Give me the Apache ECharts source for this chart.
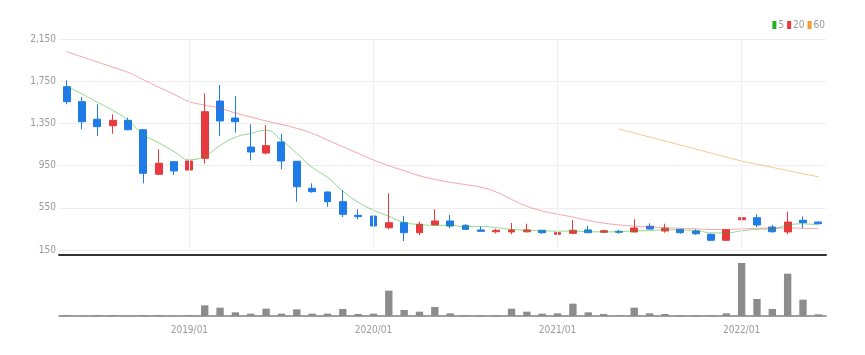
<!DOCTYPE html>
<html>
<head>
<meta charset="utf-8">
<script src="https://cdn.jsdelivr.net/npm/echarts@6/dist/echarts.min.js"></script>
<style>
  html, body { margin: 0; padding: 0; background: #fff; }
  #main { width: 865px; height: 355px; }
</style>
</head>
<body>
<div id="main"></div>
<script>
var dates = [
  "2018/05", "2018/06", "2018/07", "2018/08", "2018/09", "2018/10", "2018/11", "2018/12",
  "2019/01", "2019/02", "2019/03", "2019/04", "2019/05", "2019/06", "2019/07", "2019/08",
  "2019/09", "2019/10", "2019/11", "2019/12", "2020/01", "2020/02", "2020/03", "2020/04",
  "2020/05", "2020/06", "2020/07", "2020/08", "2020/09", "2020/10", "2020/11", "2020/12",
  "2021/01", "2021/02", "2021/03", "2021/04", "2021/05", "2021/06", "2021/07", "2021/08",
  "2021/09", "2021/10", "2021/11", "2021/12", "2022/01", "2022/02", "2022/03", "2022/04",
  "2022/05", "2022/06"
];
var opens = [1698, 1556, 1389, 1328, 1379, 1290, 868, 987, 908, 1019, 1562, 1401, 1126, 1069, 1174, 991,
  735, 700, 608, 479, 472, 361, 409, 314, 387, 425, 384, 340, 323, 321, 323, 337,
  299, 308, 340, 318, 327, 321, 375, 330, 346, 330, 299, 242, 437, 456, 368, 321, 432, 415];
var closes = [1556, 1366, 1319, 1379, 1290, 877, 972, 899, 994, 1461, 1373, 1366, 1079, 1139, 994, 750,
  703, 608, 488, 466, 377, 409, 314, 394, 425, 377, 346, 327, 337, 340, 340, 314,
  314, 337, 314, 333, 318, 358, 349, 356, 314, 304, 242, 342, 456, 387, 323, 415, 409, 399];
var lows = [1531, 1294, 1231, 1252, 1285, 782, 860, 861, 861, 968, 1231, 1262, 1000, 1057, 915, 608,
  693, 560, 463, 441, 377, 346, 235, 292, 385, 356, 344, 325, 308, 299, 314, 304,
  297, 306, 311, 311, 304, 318, 343, 314, 304, 292, 235, 235, 425, 368, 314, 299, 356, 394];
var highs = [1759, 1600, 1531, 1436, 1404, 1295, 1105, 990, 1120, 1635, 1714, 1610, 1341, 1335, 1252, 993,
  782, 703, 719, 536, 513, 687, 472, 418, 536, 482, 394, 371, 352, 406, 399, 340,
  330, 434, 380, 342, 342, 441, 403, 399, 352, 346, 304, 349, 924, 488, 387, 513, 469, 418];
var volumes = [300, 100, 300, 300, 100, 300, 300, 100, 300, 3200, 2500, 1100, 700, 2200, 700, 2000,
  700, 700, 2100, 600, 700, 7600, 1800, 1300, 2700, 800, 200, 200, 200, 2200, 1300, 700,
  800, 3700, 1100, 600, 200, 2500, 800, 600, 200, 200, 200, 800, 15900, 5100, 2100, 12700, 4900, 500];
var ma5 = [1705, 1629, 1551, 1474, 1382, 1246, 1167, 1083, 1006, 1041, 1140, 1219, 1255, 1284, 1190, 1066,
  933, 839, 709, 603, 528, 470, 411, 392, 384, 384, 371, 374, 362, 345, 338, 332,
  329, 329, 324, 322, 323, 332, 334, 343, 339, 336, 313, 312, 332, 346, 350, 385, 398, 387];
var ma20 = [2030, 1981, 1932, 1883, 1834, 1764, 1693, 1626, 1556, 1524, 1493, 1449, 1411, 1373, 1340, 1303,
  1256, 1193, 1129, 1067, 1003, 949, 902, 854, 820, 792, 770, 745, 700, 630, 565, 520,
  490, 462, 430, 405, 388, 376, 368, 362, 356, 350, 345, 345, 350, 356, 358, 358, 356, 352];
var ma60 = [null, null, null, null, null, null, null, null, null, null, null, null, null, null, null, null,
  null, null, null, null, null, null, null, null, null, null, null, null, null, null, null, null,
  null, null, null, null, 1297, 1259, 1221, 1183, 1145, 1107, 1069, 1031, 994, 963, 933, 903, 873, 844];
var yearTicks = ["2019/01", "2020/01", "2021/01", "2022/01"];

var upColor = "#e83a3e";
var downColor = "#1f7be8";
var narrowFont = "'Liberation Sans Narrow', 'DejaVu Sans Condensed', sans-serif";

var candleData = dates.map(function (d, i) {
  return [opens[i], closes[i], lows[i], highs[i]];
});
var volumeData = dates.map(function (d, i) {
  return volumes[i];
});

function isYear(index, value) {
  return yearTicks.indexOf(value) >= 0;
}

var chart = echarts.init(document.getElementById("main"));
var option = {
  animation: false,
  legend: {
    data: ["5", "20", "60"],
    right: 40,
    top: 20,
    padding: 0,
    icon: "rect",
    itemWidth: 4,
    itemHeight: 8,
    itemGap: 3,
    textStyle: { fontSize: 10, color: "#999", fontFamily: narrowFont, padding: [0, 0, 0, -3] }
  },
  grid: [
    { left: 59, right: 39, top: 39, height: 211 },
    { left: 59, right: 39, top: 263, height: 53 }
  ],
  xAxis: [
    {
      type: "category",
      gridIndex: 0,
      data: dates,
      boundaryGap: true,
      offset: 5,
      axisLine: { lineStyle: { color: "#333", width: 2 } },
      axisTick: { show: false },
      axisLabel: { show: false },
      splitLine: { show: false }
    },
    {
      type: "category",
      gridIndex: 1,
      data: dates,
      boundaryGap: true,
      axisLine: { lineStyle: { color: "#808080", width: 1.5 } },
      axisTick: { interval: isYear, alignWithLabel: true, length: 4, lineStyle: { color: "#666" } },
      axisLabel: { interval: isYear, fontSize: 10, color: "#999", margin: 9, fontFamily: narrowFont },
      splitLine: { show: false }
    }
  ],
  yAxis: [
    {
      type: "value",
      gridIndex: 0,
      min: 150,
      max: 2150,
      interval: 400,
      axisLine: { show: false },
      axisTick: { show: false },
      axisLabel: {
        fontSize: 10,
        color: "#999",
        margin: 3,
        fontFamily: narrowFont,
        formatter: function (v) {
          return String(v).replace(/\B(?=(\d{3})+(?!\d))/g, ",");
        }
      },
      splitLine: { lineStyle: { color: "#eee" } }
    },
    {
      type: "value",
      gridIndex: 1,
      min: 0,
      max: "dataMax",
      show: false,
      splitLine: { show: false }
    }
  ],
  series: [
    {
      type: "candlestick",
      xAxisIndex: 0,
      yAxisIndex: 0,
      data: candleData,
      barWidth: "48%",
      itemStyle: {
        color: upColor,
        color0: downColor,
        borderColor: upColor,
        borderColor0: downColor,
        borderWidth: 1
      },
      markLine: {
        silent: true,
        symbol: "none",
        label: { show: false },
        lineStyle: { color: "#eee", width: 1, type: "solid" },
        data: yearTicks.map(function (d) { return { xAxis: d }; })
      }
    },
    {
      name: "5",
      type: "line",
      xAxisIndex: 0,
      yAxisIndex: 0,
      data: ma5,
      smooth: true,
      showSymbol: false,
      itemStyle: { color: "#22b322" },
      lineStyle: { width: 1, opacity: 0.5 }
    },
    {
      name: "20",
      type: "line",
      xAxisIndex: 0,
      yAxisIndex: 0,
      data: ma20,
      smooth: true,
      showSymbol: false,
      itemStyle: { color: "#ea3a3e" },
      lineStyle: { width: 1, opacity: 0.45 }
    },
    {
      name: "60",
      type: "line",
      xAxisIndex: 0,
      yAxisIndex: 0,
      data: ma60,
      smooth: true,
      showSymbol: false,
      itemStyle: { color: "#f29a2e" },
      lineStyle: { width: 1, opacity: 0.55 }
    },
    {
      type: "bar",
      xAxisIndex: 1,
      yAxisIndex: 1,
      data: volumeData,
      barWidth: "48%",
      itemStyle: { color: "#8c8c8c" }
    }
  ]
};

option && chart.setOption(option);
</script>
</body>
</html>
